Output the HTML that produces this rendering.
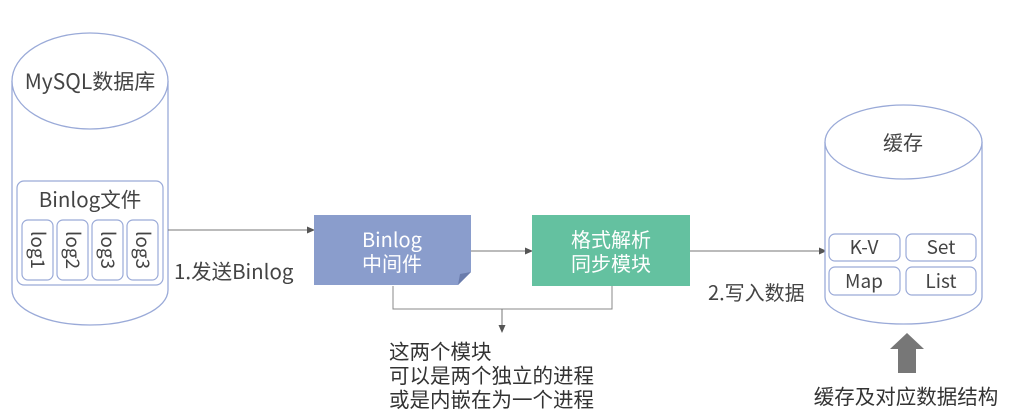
<!DOCTYPE html>
<html><head><meta charset="utf-8"><style>
body{margin:0;background:#fff;}
svg text{font-family:"Noto Sans CJK SC","Liberation Sans",sans-serif;}
</style></head><body>
<svg width="1018" height="414" viewBox="0 0 1018 414" xmlns="http://www.w3.org/2000/svg">
<defs>
<marker id="ar" markerWidth="8" markerHeight="8" refX="7" refY="4" orient="auto" markerUnits="userSpaceOnUse"><path d="M0,0.5 L8,4 L0,7.5 z" fill="#555"/></marker>
</defs>
<path d="M12,81 L12,290 A78,35 0 0 0 168,290 L168,81" fill="#fff" stroke="#9aaad8" stroke-width="1.3"/>
<ellipse cx="90" cy="81" rx="78" ry="48" fill="#fff" stroke="#9aaad8" stroke-width="1.3"/>
<text x="90" y="89" font-size="21" fill="#444" text-anchor="middle">MySQL数据库</text>
<rect x="17" y="181" width="146" height="104" rx="7" fill="#fff" stroke="#9aaad8" stroke-width="1.2"/>
<text x="90" y="207" font-size="20.5" fill="#444" text-anchor="middle">Binlog文件</text>
<g fill="#fff" stroke="#9aaad8" stroke-width="1.2">
<rect x="22" y="220" width="31" height="60" rx="6"/>
<rect x="57" y="220" width="31" height="60" rx="6"/>
<rect x="92" y="220" width="31" height="60" rx="6"/>
<rect x="127" y="220" width="31" height="60" rx="6"/>
</g>
<g font-size="19" fill="#444" text-anchor="middle">
<text transform="translate(31,250) rotate(90)">log1</text>
<text transform="translate(66,250) rotate(90)">log2</text>
<text transform="translate(101,250) rotate(90)">log3</text>
<text transform="translate(136,250) rotate(90)">log3</text>
</g>
<line x1="168" y1="230" x2="314" y2="230" stroke="#777" stroke-width="1" marker-end="url(#ar)"/>
<text x="174" y="279" font-size="20.5" fill="#444">1.发送Binlog</text>
<path d="M314,215 L471,215 L471,272 L458,285 L314,285 z" fill="#8a9dcc"/>
<path d="M458,285 L471,272 L460,274 z" fill="#6a7cac"/>
<text x="392" y="247" font-size="20" fill="#fff" text-anchor="middle">Binlog</text>
<text x="392" y="271" font-size="20" fill="#fff" text-anchor="middle">中间件</text>
<line x1="471" y1="251" x2="532" y2="251" stroke="#777" stroke-width="1" marker-end="url(#ar)"/>
<rect x="532" y="215" width="158" height="71" fill="#64c1a0"/>
<text x="611" y="247" font-size="20" fill="#fff" text-anchor="middle">格式解析</text>
<text x="611" y="271" font-size="20" fill="#fff" text-anchor="middle">同步模块</text>
<line x1="690" y1="251" x2="826" y2="251" stroke="#777" stroke-width="1" marker-end="url(#ar)"/>
<text x="708" y="300" font-size="20" fill="#444">2.写入数据</text>
<path d="M393,286 L393,309 L612,309 L612,286" fill="none" stroke="#888" stroke-width="1"/>
<line x1="502" y1="309" x2="502" y2="332" stroke="#777" stroke-width="1" marker-end="url(#ar)"/>
<g font-size="20.5" fill="#333">
<text x="389" y="359">这两个模块</text>
<text x="389" y="383">可以是两个独立的进程</text>
<text x="389" y="407">或是内嵌在为一个进程</text>
</g>
<path d="M825,142 L825,297 A78.5,27 0 0 0 982,297 L982,142" fill="#fff" stroke="#9aaad8" stroke-width="1.3"/>
<ellipse cx="903.5" cy="142" rx="78.5" ry="37" fill="#fff" stroke="#9aaad8" stroke-width="1.3"/>
<text x="903" y="150" font-size="20" fill="#444" text-anchor="middle">缓存</text>
<g fill="#fff" stroke="#9aaad8" stroke-width="1.2">
<rect x="829" y="234" width="71" height="27" rx="6"/>
<rect x="906" y="234" width="70" height="27" rx="6"/>
<rect x="829" y="267" width="71" height="28" rx="6"/>
<rect x="906" y="267" width="70" height="28" rx="6"/>
</g>
<g font-size="19" fill="#444" text-anchor="middle">
<text x="864" y="254">K-V</text>
<text x="941" y="254">Set</text>
<text x="864" y="288">Map</text>
<text x="941" y="288">List</text>
</g>
<path d="M907,333 L924,349 L916,349 L916,373 L898,373 L898,349 L890,349 z" fill="#777"/>
<text x="906" y="404" font-size="20.5" fill="#333" text-anchor="middle">缓存及对应数据结构</text>
</svg>
</body></html>
